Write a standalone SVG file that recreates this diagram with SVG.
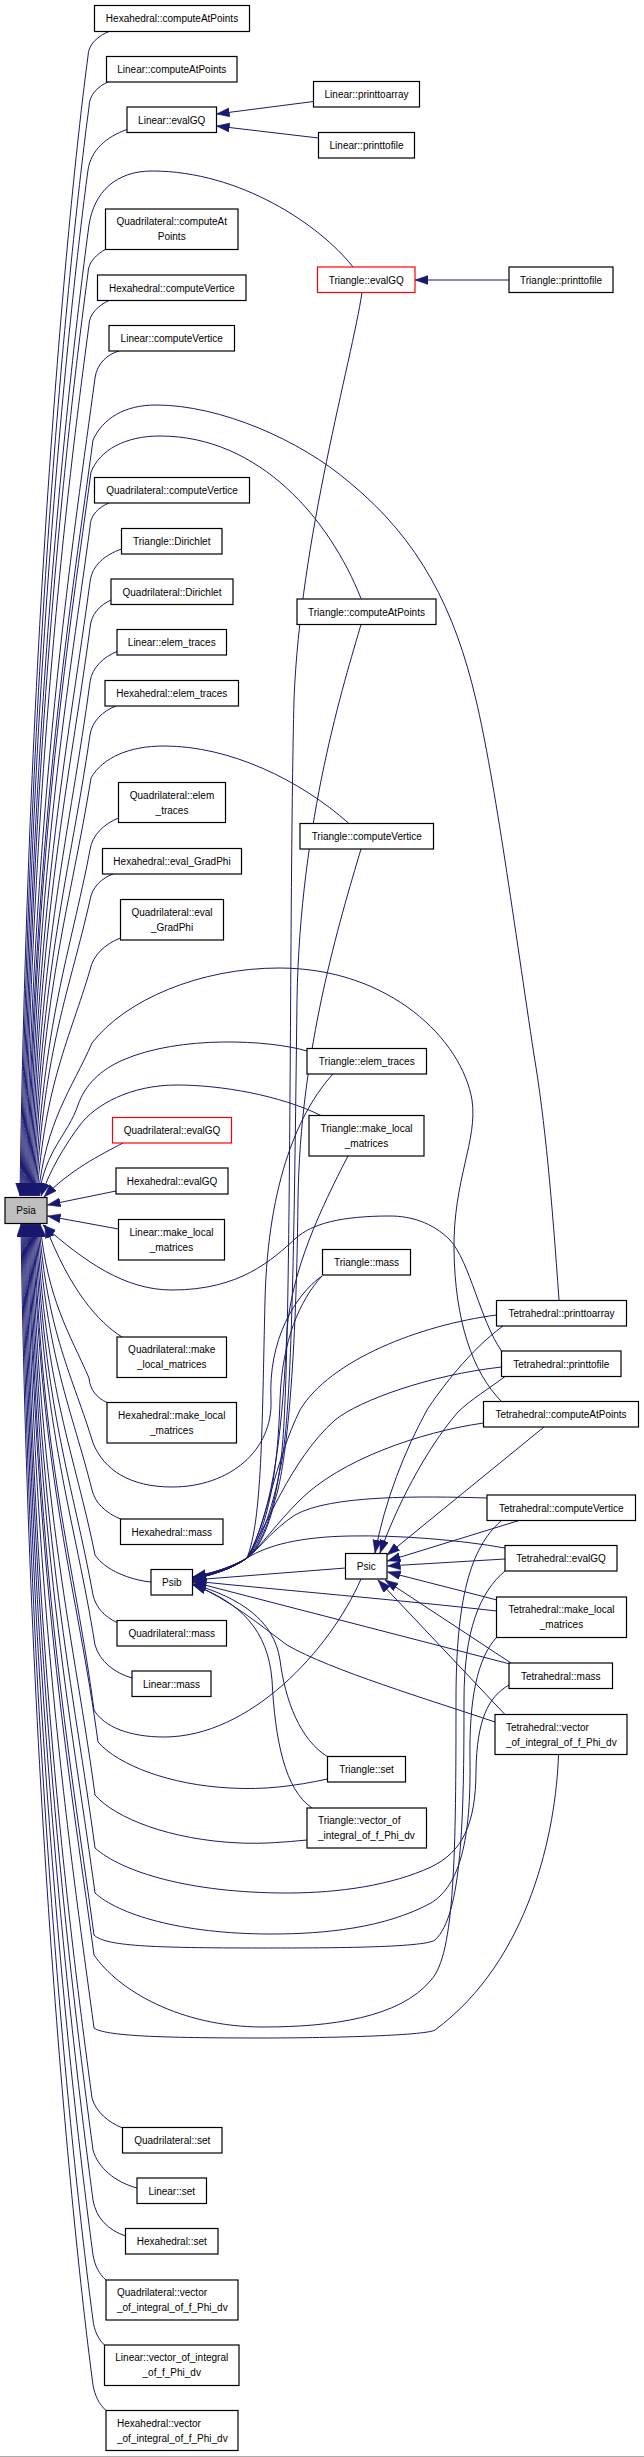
<svg xmlns="http://www.w3.org/2000/svg" width="644" height="2457" viewBox="0 0 644 2457">
<defs>
<marker id="ah" markerUnits="userSpaceOnUse" markerWidth="14" markerHeight="10" refX="13" refY="4.5" orient="auto">
<path d="M0,0 L13,4.5 L0,9 Z" fill="#191970" stroke="#191970" stroke-width="0.5"/>
</marker>
<style>
.e path{fill:none;stroke:#191970;stroke-width:1;marker-end:url(#ah)}
.n rect{fill:#ffffff;stroke:#000000;stroke-width:1.2}
.n.red rect{stroke:#ff0000}
.n.cur rect{fill:#bfbfbf}
.n text{font-family:"Liberation Sans",Arial,Helvetica,sans-serif;font-size:10px;fill:#000000;text-anchor:middle}
.n text.l{text-anchor:start}
</style>
</defs>
<rect x="0" y="0" width="644" height="2457" fill="#ffffff"/>
<line x1="0" y1="2456.5" x2="644" y2="2456.5" stroke="#aaaaaa" stroke-width="1"/>
<g id="connectors" class="e">
<!-- into Linear::evalGQ / Triangle::evalGQ -->
<path d="M313.5,101.5 L216.5,114"/>
<path d="M318.5,138 L216.5,126"/>
<path d="M509,280 L415,280"/>
<!-- upper edges into Psia -->
<path d="M109,31.5 C99,35.5 88,44 88,56 C68,206 28,626 20,1196"/>
<path d="M108,82 C99,86 89,94 89,107 C69,257 29,652 21,1196"/>
<path d="M127,129.5 C106,137 91,150 88,170 C68,320 30,683 22,1196"/>
<path d="M353,267 C320,225 240,171 152,171 C116,171 94,192 89,225 C69,375 31,710 23,1196"/>
<path d="M106,249 C97,254 88,262 88,273 C68,423 32,734 24,1196"/>
<path d="M109,300.5 C99,305 89,314 89,325 C69,475 33,760 25,1196"/>
<path d="M119,351 C108,354 97,363 95,378 C75,528 34,787 26,1196"/>
<path d="M559,1300 C552,1200 545,1120 534,1055 C515,930 495,780 476,700 C455,610 420,540 349,482 C300,440 220,405 156,405 C125,405 103,418 93,440 C73,590 35,818 27,1196"/>
<path d="M361,598.5 C330,520 260,436 160,436 C125,436 100,450 91,472 C71,622 36,834 28,1196"/>
<path d="M109,503 C99,507 90,515 90,527 C70,677 37,861 29,1196"/>
<path d="M121.5,549 C105,555 92,565 90,582 C70,732 38,889 30,1196"/>
<path d="M111,600 C100,605 91,614 90,628 C70,778 39,912 31,1196"/>
<path d="M117,651.5 C104,657 92,667 90,682 C70,832 40,939 32,1196"/>
<path d="M116,706 C103,711 92,721 90,735 C70,873 41,965 33,1196"/>
<path d="M349,823.5 C300,780 230,746 164,746 C130,746 103,757 91,778 C71,903 42,987 34,1196"/>
<path d="M118.5,818 C104,824 92,835 90,850 C70,954 43,1023 35,1196"/>
<path d="M113,874 C102,878 92,887 90,900 C70,989 44,1048 36,1196"/>
<path d="M120.5,938 C105,944 93,955 90,970 C70,1038 45,1083 37,1196"/>
<path d="M502,1402 C472,1372 455,1320 454,1250 C453,1180 478,1140 472,1100 C462,1040 390,968 279,968 C200,968 125,1000 92,1043 C72,1089 46,1120 38,1196"/>
<path d="M307,1051 C270,1040 180,1035 123,1060 C100,1070 85,1085 78,1105 C68,1135 45,1150 39,1196"/>
<path d="M322,1116 C280,1095 220,1085 177,1085 C130,1085 95,1105 80,1125 C65,1145 50,1170 41,1196"/>
<path d="M123,1143 C100,1155 70,1170 44,1197"/>
<path d="M116,1191 L47.5,1205"/>
<path d="M118.5,1229 L47.5,1216"/>
<!-- lower edges into Psia -->
<path d="M122,1337 C98,1322 70,1290 45,1225"/>
<path d="M501.5,1351 C480,1320 470,1262 450,1240 C432,1222 410,1216 390,1216 C340,1216 312,1224 296,1238 C272,1260 240,1290 172,1290 C125,1290 85,1262 43,1225"/>
<path d="M107,1402.5 C97,1398 90,1390 89,1378 C69,1332 48,1301 40,1224"/>
<path d="M322,1276 C295,1295 268,1340 271,1400 C273,1450 230,1487 172,1487 C130,1487 104,1470 93,1443 C73,1377 47,1333 39,1224"/>
<path d="M120.5,1519 C106,1513 95,1503 92,1490 C72,1410 46,1357 38,1224"/>
<path d="M151,1582 C130,1580 105,1570 95,1555 C75,1455 45,1390 37,1224"/>
<path d="M117,1622.5 C105,1617 96,1608 93,1595 C73,1484 44,1410 36,1224"/>
<path d="M132,1678 C115,1673 100,1662 95,1645 C75,1519 43,1435 35,1224"/>
<path d="M361,1579 C330,1650 250,1737 164,1737 C130,1737 104,1727 94,1710 C74,1560 42,1467 34,1224"/>
<path d="M327.5,1779 C295,1786 265,1790 230,1788 C170,1785 118,1765 98,1742 C78,1592 41,1483 33,1224"/>
<path d="M307,1840 C285,1842 265,1844 240,1843 C170,1840 115,1818 95,1795 C75,1645 40,1510 32,1224"/>
<path d="M509,1685 C488,1697 477,1720 476,1770 C476,1825 462,1852 431,1867 C392,1885 340,1893 287,1893 C190,1893 122,1872 95,1848 C75,1698 39,1536 31,1224"/>
<path d="M497,1637 C477,1658 469,1700 470,1760 C471,1840 460,1885 431,1903 C385,1928 325,1934 271,1934 C180,1934 118,1914 95,1893 C75,1743 38,1558 30,1224"/>
<path d="M505,1571 C480,1592 464,1630 464,1700 C464,1820 462,1915 435,1940 C425,1948 320,1948 263,1948 C150,1948 105,1946 94,1935 C74,1785 37,1580 29,1224"/>
<path d="M501,1521 C470,1548 456,1600 456,1700 C456,1850 455,1955 431,1980 C400,2018 330,2027 263,2027 C180,2027 118,1990 94,1955 C74,1805 36,1590 28,1224"/>
<path d="M558.5,1755 C556,1830 530,1960 435,2030 C425,2036 320,2038 263,2038 C160,2038 105,2036 94,2028 C74,1878 35,1626 27,1224"/>
<path d="M122.5,2128 C108,2122 96,2112 92,2098 C72,1948 34,1661 26,1224"/>
<path d="M137,2188 C115,2182 98,2168 93,2150 C73,2000 33,1687 25,1224"/>
<path d="M125.5,2236 C108,2230 96,2218 93,2200 C73,2050 32,1712 24,1224"/>
<path d="M106,2280 C99,2274 95,2266 93,2255 C73,2105 31,1740 23,1224"/>
<path d="M104.5,2345 C98,2339 94,2330 93,2320 C73,2170 30,1772 22,1224"/>
<path d="M106,2410.5 C99,2404 95,2396 93,2385 C73,2235 29,1805 21,1224"/>
<!-- into Psib -->
<path d="M362,292.5 C352,360 300,540 294,700 C289,900 292,1350 282,1450 C276,1510 262,1545 247,1558 C230,1568 212,1573 193,1577"/>
<path d="M361,624.5 C345,680 300,820 297,1000 C294,1250 292,1420 280,1470 C272,1510 260,1545 247,1558 C230,1568 212,1573 193,1577"/>
<path d="M361,849 C340,920 300,1050 298,1200 C296,1380 285,1470 275,1500 C268,1530 258,1550 247,1558 C230,1568 212,1574 193,1578"/>
<path d="M333,1074 C300,1110 268,1180 265,1300 C262,1430 262,1520 247,1558 C232,1569 212,1574 193,1578"/>
<path d="M348,1156 C320,1210 292,1270 287,1330 C283,1420 275,1510 247,1558 C232,1569 212,1574 193,1578"/>
<path d="M322,1276 C300,1300 282,1340 280,1400 C278,1470 268,1530 247,1558 C232,1569 212,1574 193,1578"/>
<path d="M496.5,1315 C420,1325 330,1360 300,1410 C275,1460 265,1530 247,1558 C232,1569 212,1574 193,1578"/>
<path d="M501.5,1367 C430,1375 360,1400 335,1420 C290,1460 265,1530 247,1558 C232,1569 212,1575 193,1579"/>
<path d="M483.5,1423 C420,1432 340,1460 300,1500 C275,1525 262,1545 247,1558 C232,1569 212,1575 193,1579"/>
<path d="M487,1498 C420,1496 330,1495 295,1515 C272,1530 260,1548 247,1558 C232,1569 212,1575 193,1579"/>
<path d="M505,1548 C460,1540 400,1535 349,1536 C300,1537 268,1545 247,1558 C232,1569 212,1575 193,1579"/>
<path d="M345.5,1568 L193,1580"/>
<path d="M496.5,1611 C400,1600 280,1590 193,1581"/>
<path d="M510,1664 L193,1582"/>
<path d="M495,1722 C430,1700 330,1670 287,1645 C260,1625 230,1600 193,1584"/>
<path d="M328,1757 C300,1740 285,1700 280,1660 C274,1620 240,1598 193,1584"/>
<path d="M312,1808 C285,1790 275,1740 272,1680 C268,1630 240,1602 193,1585"/>
<!-- into Psic -->
<path d="M503,1326 C470,1350 440,1390 427,1410 C405,1450 385,1500 375,1553"/>
<path d="M505,1376.5 C490,1388 470,1400 458,1412 C425,1450 395,1510 380,1553"/>
<path d="M544,1427 L387,1555"/>
<path d="M519,1520.5 L387.5,1561"/>
<path d="M505,1559 L387.5,1566"/>
<path d="M497,1600 L387.5,1572"/>
<path d="M511,1663 L385,1580"/>
<path d="M505,1714.5 L378,1580"/>
</g>
<g id="n1" class="n"><rect x="94.5" y="5.5" width="155" height="26"/><text x="172" y="22">Hexahedral::computeAtPoints</text></g>
<g id="n2" class="n"><rect x="106.5" y="56.5" width="130.5" height="25.5"/><text x="171.75" y="73">Linear::computeAtPoints</text></g>
<g id="n3" class="n"><rect x="127" y="107" width="89.5" height="25.5"/><text x="171.75" y="123.5">Linear::evalGQ</text></g>
<g id="n4" class="n"><rect x="313.5" y="81.5" width="106" height="25.5"/><text x="366.5" y="98">Linear::printtoarray</text></g>
<g id="n5" class="n"><rect x="318.5" y="132.5" width="96" height="25.5"/><text x="366.5" y="149">Linear::printtofile</text></g>
<g id="n6" class="n"><rect x="105.5" y="209" width="132.5" height="40.5"/><text x="171.75" y="225">Quadrilateral::computeAt</text><text x="171.75" y="240">Points</text></g>
<g id="n7" class="n red"><rect x="317.5" y="267" width="97.5" height="25.5"/><text x="366.25" y="283.5">Triangle::evalGQ</text></g>
<g id="n8" class="n"><rect x="509" y="267" width="104" height="25.5"/><text x="561" y="283.5">Triangle::printtofile</text></g>
<g id="n9" class="n"><rect x="97.5" y="275" width="148.5" height="25.5"/><text x="171.75" y="291.5">Hexahedral::computeVertice</text></g>
<g id="n10" class="n"><rect x="109" y="325.5" width="125.5" height="25.5"/><text x="171.75" y="342">Linear::computeVertice</text></g>
<g id="n11" class="n"><rect x="94.5" y="477.5" width="155" height="25.5"/><text x="172" y="494">Quadrilateral::computeVertice</text></g>
<g id="n12" class="n"><rect x="121.5" y="528.5" width="100.5" height="25.5"/><text x="171.75" y="545">Triangle::Dirichlet</text></g>
<g id="n13" class="n"><rect x="111" y="579" width="122" height="25.5"/><text x="172" y="595.5">Quadrilateral::Dirichlet</text></g>
<g id="n14" class="n"><rect x="117" y="629.5" width="109.5" height="25.5"/><text x="171.75" y="646">Linear::elem_traces</text></g>
<g id="n15" class="n"><rect x="297" y="599" width="139" height="25.5"/><text x="366.5" y="615.5">Triangle::computeAtPoints</text></g>
<g id="n16" class="n"><rect x="105" y="680.5" width="133.5" height="25.5"/><text x="171.75" y="697">Hexahedral::elem_traces</text></g>
<g id="n17" class="n"><rect x="118.5" y="782.5" width="107" height="40"/><text x="172" y="798.5">Quadrilateral::elem</text><text x="172" y="813.5">_traces</text></g>
<g id="n18" class="n"><rect x="300" y="823.5" width="133.5" height="25.5"/><text x="366.75" y="840">Triangle::computeVertice</text></g>
<g id="n19" class="n"><rect x="102.5" y="848.5" width="139" height="25.5"/><text x="172" y="865">Hexahedral::eval_GradPhi</text></g>
<g id="n20" class="n"><rect x="120.5" y="899.5" width="103" height="40.5"/><text x="172" y="915.5">Quadrilateral::eval</text><text x="172" y="930.5">_GradPhi</text></g>
<g id="n21" class="n"><rect x="307" y="1048.5" width="119.5" height="25.5"/><text x="366.75" y="1065">Triangle::elem_traces</text></g>
<g id="n22" class="n"><rect x="309" y="1115.5" width="115" height="40.5"/><text x="366.5" y="1131.5">Triangle::make_local</text><text x="366.5" y="1146.5">_matrices</text></g>
<g id="n23" class="n red"><rect x="112.5" y="1117.5" width="119" height="25.5"/><text x="172" y="1134">Quadrilateral::evalGQ</text></g>
<g id="n24" class="n"><rect x="116" y="1168" width="112" height="26"/><text x="172" y="1184.5">Hexahedral::evalGQ</text></g>
<g id="n25" class="n cur"><rect x="5" y="1197.5" width="42" height="26"/><text x="26" y="1214">Psia</text></g>
<g id="n26" class="n"><rect x="118.5" y="1219.5" width="106" height="40.5"/><text x="171.5" y="1235.5">Linear::make_local</text><text x="171.5" y="1250.5">_matrices</text></g>
<g id="n27" class="n"><rect x="322.5" y="1249.5" width="88" height="25.5"/><text x="366.5" y="1266">Triangle::mass</text></g>
<g id="n28" class="n"><rect x="496.5" y="1300.5" width="130" height="25.5"/><text x="561.5" y="1317">Tetrahedral::printtoarray</text></g>
<g id="n29" class="n"><rect x="117" y="1337" width="109.5" height="40.5"/><text x="171.75" y="1353">Quadrilateral::make</text><text x="171.75" y="1368">_local_matrices</text></g>
<g id="n30" class="n"><rect x="501.5" y="1351" width="119.5" height="25.5"/><text x="561.25" y="1367.5">Tetrahedral::printtofile</text></g>
<g id="n31" class="n"><rect x="107" y="1402.5" width="129.5" height="40.5"/><text x="171.75" y="1418.5">Hexahedral::make_local</text><text x="171.75" y="1433.5">_matrices</text></g>
<g id="n32" class="n"><rect x="483.5" y="1401.5" width="155" height="25.5"/><text x="561" y="1418">Tetrahedral::computeAtPoints</text></g>
<g id="n33" class="n"><rect x="487" y="1495" width="148.5" height="25.5"/><text x="561.25" y="1511.5">Tetrahedral::computeVertice</text></g>
<g id="n34" class="n"><rect x="120.5" y="1519" width="102.5" height="25.5"/><text x="171.75" y="1535.5">Hexahedral::mass</text></g>
<g id="n35" class="n"><rect x="505" y="1545.5" width="112" height="25.5"/><text x="561" y="1562">Tetrahedral::evalGQ</text></g>
<g id="n36" class="n"><rect x="345.5" y="1553.5" width="41.5" height="25.5"/><text x="366.25" y="1570">Psic</text></g>
<g id="n37" class="n"><rect x="151" y="1569.5" width="41.5" height="25.5"/><text x="171.75" y="1586">Psib</text></g>
<g id="n38" class="n"><rect x="496.5" y="1597" width="130" height="40.5"/><text x="561.5" y="1613">Tetrahedral::make_local</text><text x="561.5" y="1628">_matrices</text></g>
<g id="n39" class="n"><rect x="117" y="1620.5" width="109.5" height="25.5"/><text x="171.75" y="1637">Quadrilateral::mass</text></g>
<g id="n40" class="n"><rect x="509" y="1663" width="103.5" height="25.5"/><text x="560.75" y="1679.5">Tetrahedral::mass</text></g>
<g id="n41" class="n"><rect x="132" y="1671" width="79" height="25.5"/><text x="171.5" y="1687.5">Linear::mass</text></g>
<g id="n42" class="n"><rect x="495" y="1714.5" width="132" height="40"/><text class="l" x="506" y="1730.5">Tetrahedral::vector</text><text class="l" x="506" y="1745.5">_of_integral_of_f_Phi_dv</text></g>
<g id="n43" class="n"><rect x="327.5" y="1756.5" width="78" height="25.5"/><text x="366.5" y="1773">Triangle::set</text></g>
<g id="n44" class="n"><rect x="307" y="1808" width="119.5" height="40"/><text class="l" x="318" y="1824">Triangle::vector_of</text><text class="l" x="318" y="1839">_integral_of_f_Phi_dv</text></g>
<g id="n45" class="n"><rect x="122.5" y="2127.5" width="99.5" height="25.5"/><text x="172.25" y="2144">Quadrilateral::set</text></g>
<g id="n46" class="n"><rect x="137" y="2178" width="69.5" height="25.5"/><text x="171.75" y="2194.5">Linear::set</text></g>
<g id="n47" class="n"><rect x="125.5" y="2228.5" width="92.5" height="25.5"/><text x="171.75" y="2245">Hexahedral::set</text></g>
<g id="n48" class="n"><rect x="106" y="2280" width="132" height="40"/><text class="l" x="117" y="2296">Quadrilateral::vector</text><text class="l" x="117" y="2311">_of_integral_of_f_Phi_dv</text></g>
<g id="n49" class="n"><rect x="104.5" y="2345" width="134.5" height="40.5"/><text x="171.75" y="2361">Linear::vector_of_integral</text><text x="171.75" y="2376">_of_f_Phi_dv</text></g>
<g id="n50" class="n"><rect x="106" y="2410.5" width="132" height="40"/><text class="l" x="117" y="2426.5">Hexahedral::vector</text><text class="l" x="117" y="2441.5">_of_integral_of_f_Phi_dv</text></g>
</svg>
